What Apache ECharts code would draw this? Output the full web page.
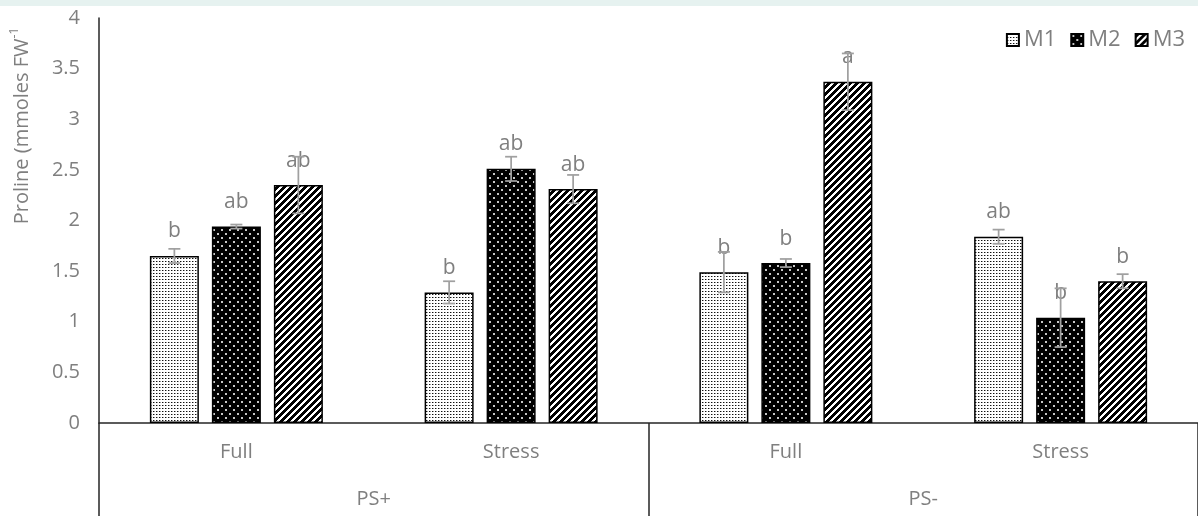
<!DOCTYPE html>
<html>
<head>
<meta charset="utf-8">
<script src="https://cdn.jsdelivr.net/npm/echarts@6/dist/echarts.min.js"></script>
<style>
  html, body { margin: 0; padding: 0; background: #fff; }
  #chart { width: 1198px; height: 516px; }
</style>
</head>
<body>
<div id="chart"></div>
<script>
// categories
var treatments = ['Full', 'Stress', 'Full', 'Stress'];
var groups = ['PS+', 'PS-'];
var seriesNames = ['M1', 'M2', 'M3'];

// proline values
var m1 = [1.65, 1.29, 1.49, 1.84];
var m2 = [1.94, 2.51, 1.58, 1.04];
var m3 = [2.35, 2.31, 3.37, 1.40];

// error (+/-)
var m1Err = [0.07, 0.11, 0.20, 0.07];
var m2Err = [0.02, 0.12, 0.04, 0.29];
var m3Err = [0.28, 0.14, 0.28, 0.07];

// significance letters
var m1Let = ['b', 'b', 'b', 'ab'];
var m2Let = ['ab', 'ab', 'b', 'b'];
var m3Let = ['ab', 'ab', 'a', 'b'];

var yTicks = [0, 0.5, 1, 1.5, 2, 2.5, 3, 3.5, 4];

var textColor = '#7f7f7f';
var fontFamily = '"Open Sans", "Noto Sans", sans-serif';
var barW = 49;
var barStep = 62;

function makePattern(w, h, draw) {
  var c = document.createElement('canvas');
  c.width = w; c.height = h;
  var g = c.getContext('2d');
  draw(g, w, h);
  return { image: c, repeat: 'repeat' };
}

// fine dark dots on white
var pat1 = makePattern(3, 3, function (g) {
  g.fillStyle = '#fff'; g.fillRect(0, 0, 3, 3);
  g.fillStyle = '#111'; g.fillRect(0, 0, 1, 1);
  g.fillStyle = '#9a9a9a'; g.fillRect(1, 0, 1, 1);
});
// white dots on black
var pat2 = makePattern(8, 8, function (g) {
  g.fillStyle = '#000'; g.fillRect(0, 0, 8, 8);
  g.fillStyle = '#c8c8c8';
  g.fillRect(1, 1, 2, 2);
  g.fillRect(5, 5, 2, 2);
});
// wide diagonal stripes
var pat3 = makePattern(7, 7, function (g) {
  g.fillStyle = '#fff'; g.fillRect(0, 0, 7, 7);
  g.fillStyle = '#000';
  for (var x = 0; x < 7; x++) {
    for (var y = 0; y < 7; y++) {
      if ((x + y) % 7 < 4) g.fillRect(x, y, 1, 1);
    }
  }
});

var values = [m1, m2, m3];
var errs = [m1Err, m2Err, m3Err];
var letters = [m1Let, m2Let, m3Let];
var patterns = [pat1, pat2, pat3];

var series = [];
seriesNames.forEach(function (name, k) {
  series.push({
    name: name,
    type: 'bar',
    xAxisIndex: 0,
    barWidth: barW,
    barGap: ((barStep - barW) / barW * 100) + '%',
    itemStyle: { color: patterns[k], borderColor: '#000', borderWidth: 1.5 },
    label: {
      show: true,
      position: 'top',
      distance: 14,
      color: textColor,
      fontSize: 21,
      fontFamily: fontFamily,
      formatter: (function (lets) {
        return function (p) { return lets[p.dataIndex]; };
      })(letters[k])
    },
    data: values[k]
  });
});

seriesNames.forEach(function (name, k) {
  var data = values[k].map(function (v, i) {
    return [i, v - errs[k][i], v + errs[k][i]];
  });
  series.push({
    type: 'custom',
    xAxisIndex: 0,
    z: 5,
    silent: true,
    renderItem: (function (off) {
      return function (params, api) {
        var lo = api.coord([api.value(0), api.value(1)]);
        var hi = api.coord([api.value(0), api.value(2)]);
        var x = lo[0] + off;
        var cap = 6;
        var st = { stroke: '#a0a0a0', lineWidth: 1.75 };
        return {
          type: 'group',
          children: [
            { type: 'line', shape: { x1: x, y1: lo[1], x2: x, y2: hi[1] }, style: st },
            { type: 'line', shape: { x1: x - cap, y1: lo[1], x2: x + cap, y2: lo[1] }, style: st },
            { type: 'line', shape: { x1: x - cap, y1: hi[1], x2: x + cap, y2: hi[1] }, style: st }
          ]
        };
      };
    })((k - 1) * barStep),
    encode: { x: 0, y: [1, 2] },
    data: data
  });
});

var option = {
  backgroundColor: '#fff',
  animation: false,
  textStyle: { fontFamily: fontFamily },
  grid: { left: 99, right: 0, top: 18, bottom: 93, containLabel: false },
  legend: {
    data: seriesNames,
    right: 8,
    top: 24,
    icon: 'rect',
    itemWidth: 12,
    itemHeight: 12,
    itemGap: 14,
    textStyle: { color: textColor, fontSize: 22, fontFamily: fontFamily }
  },
  graphic: [
    { type: 'rect', left: 0, top: 0, shape: { width: 1198, height: 6 }, style: { fill: '#e6f2f0' }, silent: true },
    {
      type: 'text',
      x: 22, y: 126,
      rotation: Math.PI / 2,
      style: {
        text: '{a|Proline (mmoles FW}{s|-1}',
        align: 'center',
        verticalAlign: 'middle',
        rich: {
          a: { fontSize: 20, fill: textColor, color: textColor, fontFamily: fontFamily, lineHeight: 26 },
          s: { fontSize: 12, fill: textColor, color: textColor, fontFamily: fontFamily, verticalAlign: 'top', lineHeight: 14 }
        }
      }
    }
  ],
  xAxis: [
    {
      type: 'category',
      data: treatments,
      position: 'bottom',
      axisLine: { show: true, lineStyle: { color: '#262626', width: 1.5 } },
      axisTick: { show: false },
      axisLabel: { color: textColor, fontSize: 20, margin: 19, fontFamily: fontFamily }
    },
    {
      type: 'category',
      data: groups,
      position: 'bottom',
      axisLine: { show: false },
      axisTick: { show: true, length: 93, lineStyle: { color: '#262626', width: 1.5 } },
      axisLabel: { color: textColor, fontSize: 20, margin: 66, fontFamily: fontFamily }
    }
  ],
  yAxis: {
    type: 'value',
    min: yTicks[0],
    max: yTicks[yTicks.length - 1],
    interval: 0.5,
    axisLine: { show: true, lineStyle: { color: '#262626', width: 1.5 } },
    axisTick: { show: false },
    splitLine: { show: false },
    axisLabel: { color: textColor, fontSize: 20, margin: 19, fontFamily: fontFamily }
  },
  series: series
};

var chart = echarts.init(document.getElementById('chart'));
chart.setOption(option);
</script>
</body>
</html>
